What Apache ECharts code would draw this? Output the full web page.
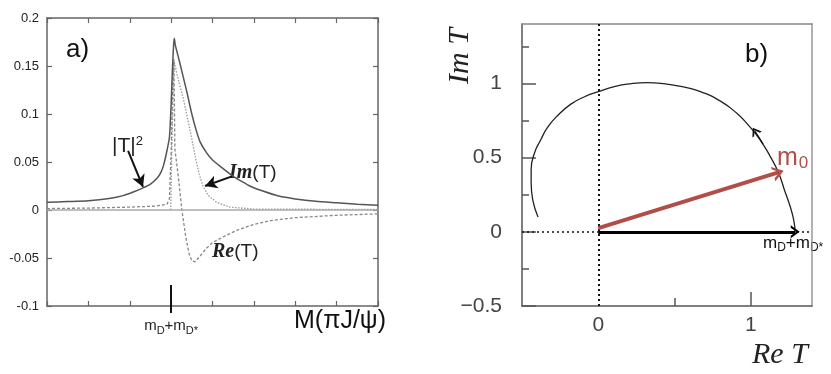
<!DOCTYPE html>
<html>
<head>
<meta charset="utf-8">
<script src="https://cdn.jsdelivr.net/npm/echarts@6/dist/echarts.min.js"></script>
<style>
html, body { margin: 0; padding: 0; background: #fff; }
#chart { width: 831px; height: 374px; }
</style>
</head>
<body>
<div id="chart"></div>
<script>
// a) line shapes vs M(piJ/psi), x in tick units, threshold at 3
const thresholdX = 3

const absT2X = [0, 0.5, 1.0, 1.5, 1.84, 2.1, 2.32, 2.5, 2.66, 2.75, 2.82, 2.9, 2.96, 3.0, 3.03, 3.06, 3.077, 3.1, 3.2, 3.38, 3.5, 3.6, 3.7, 3.85, 4.0, 4.2, 4.5, 4.7, 4.9, 5.2, 5.6, 6.0, 6.5, 7.0, 7.5, 8.0]
const absT2Y = [0.008, 0.0088, 0.0097, 0.012, 0.015, 0.019, 0.023, 0.027, 0.033, 0.039, 0.047, 0.062, 0.076, 0.11, 0.145, 0.172, 0.179, 0.172, 0.155, 0.123, 0.1, 0.084, 0.071, 0.06, 0.052, 0.045, 0.035, 0.03, 0.025, 0.02, 0.0145, 0.0115, 0.009, 0.0075, 0.006, 0.005]

const imTX = [2.99, 3.02, 3.07, 3.15, 3.3, 3.4, 3.5, 3.6, 3.68, 3.77, 3.9, 4.1, 4.42, 5.0, 8.0]
const imTY = [0, 0.07, 0.155, 0.14, 0.115, 0.095, 0.074, 0.052, 0.037, 0.025, 0.015, 0.008, 0.003, 0.001, 0.0005]

const reTX = [0, 1, 2, 2.6, 2.9, 2.96, 3.0, 3.04, 3.065, 3.08, 3.09, 3.17, 3.26, 3.35, 3.43, 3.5, 3.58, 3.7, 3.85, 4.0, 4.3, 4.6, 5.0, 5.4, 6.0, 7.0, 8.0]
const reTY = [0.0015, 0.002, 0.003, 0.004, 0.006, 0.012, 0.06, 0.13, 0.157, 0.11, 0.064, 0.036, 0, -0.027, -0.045, -0.053, -0.054, -0.048, -0.04, -0.034, -0.027, -0.021, -0.015, -0.011, -0.008, -0.0055, -0.004]

const yTicksA = [-0.1, 0.2, 0.05] // min, max, step

// b) Argand plot of T
const reT = [1.29, 1.28, 1.257, 1.22, 1.18, 1.125, 1.06, 0.99, 0.906, 0.80, 0.66, 0.53, 0.43, 0.32, 0.217, 0.105, 0, -0.09, -0.18, -0.27, -0.335, -0.377, -0.417, -0.44, -0.44, -0.43, -0.395]
const imT = [0.0, 0.08, 0.17, 0.28, 0.40, 0.51, 0.62, 0.71, 0.80, 0.88, 0.948, 0.982, 0.998, 1.005, 0.998, 0.978, 0.944, 0.91, 0.86, 0.78, 0.70, 0.62, 0.534, 0.42, 0.33, 0.216, 0.10]
const thresholdPoint = [1.29, 0]
const m0Point = [1.18, 0.40]
const bMajorTicks = [-0.5, 0, 0.5, 1]
const bMinorTicksY = [-0.25, 0.25, 0.75, 1.25]
const bLabelsX = [0, 1]

const FONT = '"Liberation Sans", Arial, sans-serif'
const SERIF = '"Liberation Serif", "Times New Roman", serif'
const RED = '#b24e47'
const chevron = 'path://M0,10L5,0L10,10L8.1,10L5,3.8L1.9,10Z'

function zip(xs, ys) {
	return xs.map((x, i) => [x, ys[i]])
}

const frameA = {
	type: 'value',
	gridIndex: 0,
	min: 0,
	max: 8,
	interval: 1,
	axisLine: { onZero: false, lineStyle: { color: '#666', width: 1.5 } },
	axisTick: { inside: true, length: 5, lineStyle: { color: '#666', width: 1.2 } },
	axisLabel: { show: false },
	splitLine: { show: false },
}
const frameAY = {
	type: 'value',
	gridIndex: 0,
	min: yTicksA[0],
	max: yTicksA[1],
	interval: yTicksA[2],
	axisLine: { onZero: false, lineStyle: { color: '#666', width: 1.5 } },
	axisTick: { inside: true, length: 5, lineStyle: { color: '#666', width: 1.2 } },
	axisLabel: { show: false },
	splitLine: { show: false },
}
const plainB = {
	type: 'value',
	gridIndex: 1,
	min: -0.5,
	max: 1.4,
	axisLine: { onZero: false, lineStyle: { color: '#555', width: 1.5 } },
	axisTick: { show: false },
	axisLabel: { show: false },
	splitLine: { show: false },
}

const option = {
	animation: false,
	backgroundColor: '#fff',
	textStyle: { fontFamily: FONT },
	grid: [
		{ left: 47, right: 453, top: 18, bottom: 68 },
		{ left: 522, right: 19, top: 24, bottom: 68 },
	],
	xAxis: [
		Object.assign({}, frameA, { position: 'bottom' }),
		Object.assign({}, frameA, { position: 'top' }),
		// threshold marker under panel a
		Object.assign({}, frameA, {
			position: 'bottom',
			offset: 7,
			axisLine: { show: false, onZero: false },
			axisTick: { inside: true, length: 28, customValues: [thresholdX], lineStyle: { color: '#111', width: 2 } },
			axisLabel: {
				show: true,
				customValues: [thresholdX],
				margin: 3,
				color: '#222',
				fontSize: 15,
				formatter: () => 'm{s|D}+m{s|D*}',
				rich: { s: { fontSize: 11, color: '#222', padding: [9, 0, 0, 0] } },
			},
		}),
		// panel b
		Object.assign({}, plainB, {
			position: 'bottom',
			axisTick: { show: true, inside: true, length: 14, customValues: [1], lineStyle: { color: '#555', width: 1.5 } },
			axisLabel: { show: true, customValues: bLabelsX, margin: 9, fontSize: 21, color: '#444' },
		}),
		Object.assign({}, plainB, {
			position: 'bottom',
			axisLine: { show: false, onZero: false },
			axisTick: { show: true, inside: true, length: 8, customValues: [0.5], lineStyle: { color: '#555', width: 1.5 } },
		}),
		Object.assign({}, plainB, {
			position: 'top',
			axisLine: { onZero: false, lineStyle: { color: '#888', width: 1.5 } },
		}),
	],
	yAxis: [
		Object.assign({}, frameAY, {
			position: 'left',
			axisLabel: { show: true, margin: 8, fontSize: 13, color: '#222' },
		}),
		Object.assign({}, frameAY, { position: 'right' }),
		Object.assign({}, plainB, {
			position: 'left',
			axisTick: { show: true, inside: true, length: 14, customValues: bMajorTicks, lineStyle: { color: '#555', width: 1.5 } },
			axisLabel: {
				show: true,
				customValues: bMajorTicks,
				margin: 20,
				fontSize: 21,
				color: '#444',
				formatter: (v) => (v < 0 ? '\u2212' + Math.abs(v) : String(v)),
			},
		}),
		Object.assign({}, plainB, {
			position: 'left',
			axisLine: { show: false, onZero: false },
			axisTick: { show: true, inside: true, length: 7, customValues: bMinorTicksY, lineStyle: { color: '#555', width: 1.5 } },
		}),
		Object.assign({}, plainB, {
			position: 'right',
			axisLine: { onZero: false, lineStyle: { color: '#999', width: 1.5 } },
		}),
	],
	series: [
		{
			name: '|T|^2',
			type: 'line',
			xAxisIndex: 0,
			yAxisIndex: 0,
			data: zip(absT2X, absT2Y),
			showSymbol: false,
			smooth: 0.2,
			lineStyle: { color: '#555', width: 1.5 },
			z: 4,
			markLine: {
				silent: true,
				animation: false,
				label: { show: false },
				symbol: ['none', 'none'],
				data: [
					{ yAxis: 0, lineStyle: { color: '#aaa', width: 1.5, type: 'solid' } },
					[
						{ coord: [1.96, 0.0615], symbol: 'none', lineStyle: { color: '#111', width: 2, type: 'solid' } },
						{ coord: [2.32, 0.024], symbol: 'arrow', symbolSize: [10, 12] },
					],
					[
						{ coord: [4.47, 0.035], symbol: 'none', lineStyle: { color: '#111', width: 2, type: 'solid' } },
						{ coord: [3.82, 0.025], symbol: 'arrow', symbolSize: [10, 12] },
					],
				],
			},
		},
		{
			name: 'Im(T)',
			type: 'line',
			xAxisIndex: 0,
			yAxisIndex: 0,
			data: zip(imTX, imTY),
			showSymbol: false,
			lineStyle: { color: '#999', width: 1.3, type: [1.5, 1.5] },
			z: 3,
		},
		{
			name: 'Re(T)',
			type: 'line',
			xAxisIndex: 0,
			yAxisIndex: 0,
			data: zip(reTX, reTY),
			showSymbol: false,
			lineStyle: { color: '#888', width: 1.3, type: [3, 2] },
			z: 3,
		},
		{
			name: 'T',
			type: 'line',
			xAxisIndex: 3,
			yAxisIndex: 2,
			data: zip(reT, imT),
			showSymbol: false,
			smooth: true,
			lineStyle: { color: '#222', width: 1.3 },
			markLine: {
				silent: true,
				animation: false,
				label: { show: false },
				symbol: ['none', 'none'],
				data: [
					{ xAxis: 0, lineStyle: { color: '#111', width: 2, type: [2, 3] } },
					{ yAxis: 0, lineStyle: { color: '#111', width: 1.5, type: [2, 3] } },
					[
						{ coord: [0, 0], symbol: 'none', lineStyle: { color: '#000', width: 3, type: 'solid' } },
						{ coord: thresholdPoint, symbol: chevron, symbolSize: [13, 9] },
					],
					[
						{ coord: [0, 0.025], symbol: 'none', lineStyle: { color: RED, width: 4, type: 'solid' } },
						{ coord: m0Point, symbol: chevron, symbolSize: [15, 11] },
					],
					[
						{ coord: [1.08, 0.59], symbol: 'none', lineStyle: { color: '#111', width: 1.3, type: 'solid' } },
						{ coord: [1.026, 0.678], symbol: chevron, symbolSize: [11, 8] },
					],
				],
			},
		},
	],
	graphic: [
		{ type: 'text', x: 66, y: 50, style: { text: 'a)', font: '26px ' + FONT, fill: '#111', verticalAlign: 'middle', textVerticalAlign: 'middle' } },
		{ type: 'text', x: 745, y: 55, style: { text: 'b)', font: '26px ' + FONT, fill: '#111', verticalAlign: 'middle', textVerticalAlign: 'middle' } },
		{ type: 'text', x: 294, y: 321, style: { text: 'M(\u03c0J/\u03c8)', font: '25px ' + FONT, fill: '#111', verticalAlign: 'middle', textVerticalAlign: 'middle' } },
		{
			type: 'text', x: 112, y: 146,
			style: {
				text: '|T|{sup|2}', font: '21px ' + FONT, fill: '#222', verticalAlign: 'middle', textVerticalAlign: 'middle',
				rich: { sup: { fontSize: 13, fill: '#222', padding: [0, 0, 10, 0] } },
			},
		},
		{
			type: 'text', x: 229, y: 173,
			style: {
				text: '{s|Im}(T)', font: '19px ' + FONT, fill: '#222', verticalAlign: 'middle', textVerticalAlign: 'middle',
				rich: { s: { font: 'italic bold 20px ' + SERIF, fill: '#222' } },
			},
		},
		{
			type: 'text', x: 212, y: 252,
			style: {
				text: '{s|Re}(T)', font: '19px ' + FONT, fill: '#222', verticalAlign: 'middle', textVerticalAlign: 'middle',
				rich: { s: { font: 'italic bold 20px ' + SERIF, fill: '#222' } },
			},
		},
		{
			type: 'text', x: 777, y: 158,
			style: {
				text: 'm{s|0}', font: '25px ' + FONT, fill: RED, verticalAlign: 'middle', textVerticalAlign: 'middle',
				rich: { s: { fontSize: 17, fill: RED, padding: [10, 0, 0, 1] } },
			},
		},
		{
			type: 'text', x: 763, y: 243,
			style: {
				text: 'm{s|D}+m{s|D*}', font: '17px ' + FONT, fill: '#111', verticalAlign: 'middle', textVerticalAlign: 'middle',
				rich: { s: { fontSize: 12, fill: '#111', padding: [9, 0, 0, 0] } },
			},
		},
		{
			type: 'text', x: 460, y: 56, rotation: Math.PI / 2,
			style: { text: 'Im T', font: 'italic 30px ' + SERIF, fill: '#222', align: 'center', textAlign: 'center', verticalAlign: 'middle', textVerticalAlign: 'middle' },
		},
		{
			type: 'text', x: 752, y: 355,
			style: { text: 'Re T', font: 'italic 30px ' + SERIF, fill: '#222', verticalAlign: 'middle', textVerticalAlign: 'middle' },
		},
	],
}

const chart = echarts.init(document.getElementById('chart'))
chart.setOption(option)
window.addEventListener('resize', chart.resize)
</script>
</body>
</html>
